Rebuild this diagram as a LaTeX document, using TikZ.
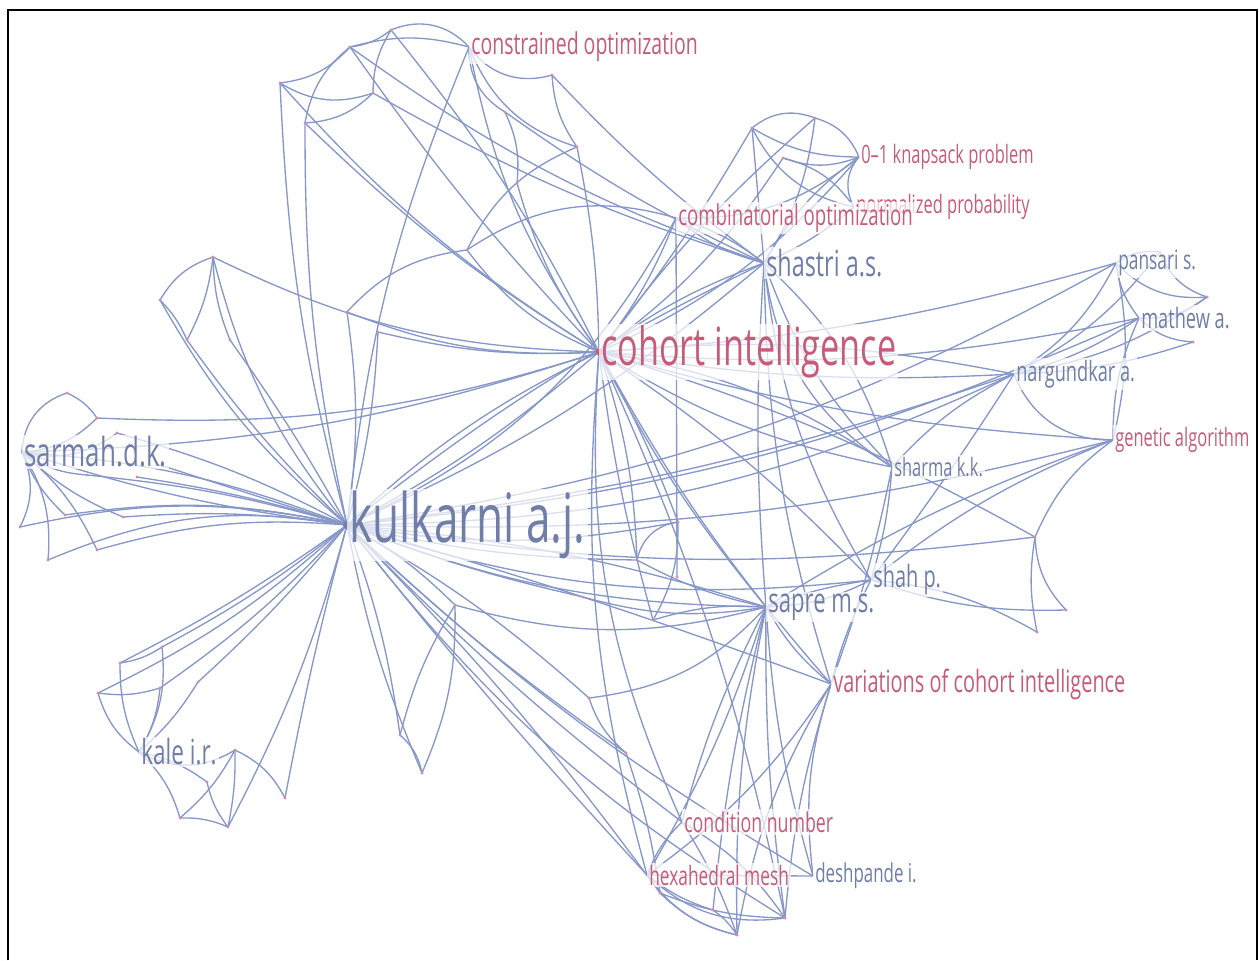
\documentclass[tikz,border=0pt]{standalone}
\usepackage{fontspec}
\setmainfont{Open Sans}[FakeStretch=0.65]
\usepackage{tikz}

\definecolor{edgeblue}{RGB}{134,151,200}
\definecolor{authorblue}{RGB}{112,126,168}
\definecolor{topicred}{RGB}{198,92,122}
\definecolor{dotpink}{RGB}{214,140,170}

\tikzset{
  edge/.style={draw=edgeblue, line width=1pt},
  jdot/.style={circle, fill=dotpink, inner sep=0pt, minimum size=2.6pt},
  lbl/.style={anchor=west, inner sep=1.5pt, fill=white, fill opacity=0.7, text opacity=1},
  author/.style={lbl, text=authorblue},
  topic/.style={lbl, text=topicred},
}
\newcommand{\fs}[1]{\fontsize{#1}{#1}\selectfont}

\begin{document}
\begin{tikzpicture}[x=0.75pt, y=-0.75pt]
  \useasboundingbox (0,0) rectangle (1259,960);
  \draw[black, line width=2.2pt] (8,960) -- (8,10) -- (1257,10) -- (1257,960);

  \foreach \n/\x/\y in {ku/347/525, co/599/352, sa/22/452, ka/139/752, sh/764/263,
      na/1014/374, sp/766/607, ph/871/580, va/831/684, cn/469/47, cb/676/218,
      kp/859/157, np/854/207, sk/892/467, ga/1113/440, ps/1116/263, ma/1139/318,
      cd/682/822, hx/647/875, de/813/876}
    \coordinate (\n) at (\x,\y);

  \foreach \n/\x/\y in {j1/280/83, j2/350/47, j3/391/30, j4/305/123, j5/373/93,
      j6/552/75, j7/505/112, j8/577/147, j9/517/183, j10/467/250, j11/347/312,
      j12/378/332, j13/213/257, j15/783/158, j16/752/128, j17/815/118,
      j20/67/393, j21/97/418, j22/117/433, j23/20/527, j24/65/515, j25/48/560,
      j26/97/550, j27/123/517, j28/87/475, j29/137/477, j30/160/465,
      j31/160/300, j32/187/340, j33/230/340,
      j40/162/647, j41/120/663, j42/98/693, j43/160/688, j44/198/682,
      j45/235/750, j46/207/782, j47/180/818, j48/228/827, j49/285/798,
      j50/400/735, j51/422/773,
      j60/678/522, j61/637/560, j62/653/620, j63/583/597, j64/455/605,
      j65/589/698, j66/626/753, j67/677/577,
      j70/737/935, j71/785/918, j72/713/910, j73/660/893,
      j80/1207/297, j81/1193/342, j82/1035/537, j83/1066/610, j84/1037/632,
      j85/1160/252}
    \coordinate (\n) at (\x,\y);

  \foreach \a/\b/\c in {j1/j2/-20, j1/j5/-25, j2/j3/-15, j2/cn/15, j3/cn/35,
      j4/j5/-20, j4/j2/20, j5/j3/15, j1/ku/-6, j4/ku/-6, j1/co/-8, j2/co/-4,
      j3/co/6, j4/co/-6, j5/sh/-6, j2/sh/-8, cn/j6/-35, cn/j7/-30, cn/ku/-8,
      cn/co/-12, cn/j8/-25, j6/j8/-15, j6/sh/-5, j7/j9/15, j7/sh/-5, j8/co/5,
      j9/co/-10, j8/j10/-20, j10/co/-15, j10/j11/-20, j10/cb/25, j11/co/-12,
      j12/co/-8, j11/ku/8, j12/ku/6, j13/co/-12, j13/ku/-12, j13/j31/-20,
      j13/j32/10,
      j16/j17/30, j17/kp/25, j16/kp/-15, j15/kp/-20, j15/np/20, j16/np/-25,
      kp/np/-35, j15/co/10, j16/co/4, j17/co/-6, kp/co/12, j16/sh/0,
      kp/sh/-12, np/sh/8, j17/sh/12, cb/sh/10, cb/sh/-12, cb/kp/-20, cb/co/8,
      cb/ku/18, cb/j67/0,
      sh/co/-8, sh/sk/-25, sh/sk/-12, sh/sk/15, sh/sp/-4, sh/ph/-12, sh/va/-8,
      sh/ku/8, sh/ku/-6,
      co/na/8, co/na/-6, co/ps/-6, co/ma/-8, co/ga/-6, co/sk/12, co/sk/-10,
      co/sp/-6, co/ph/6, co/va/-6, co/cd/-14, co/hx/-10, co/j82/6, co/j60/4,
      co/j61/8, co/j62/-4, co/ku/6, co/ku/-8,
      ku/na/-12, ku/na/-6, ku/ga/-8, ku/ps/-10, ku/ma/-9, ku/sp/-10, ku/sp/6,
      ku/ph/-12, ku/va/2, ku/j82/-8, ku/j60/-10, ku/j61/-6, ku/j63/-4,
      ku/j64/8, ku/de/-6, ku/j71/-10, ku/cd/-4, ku/hx/-2, ku/j65/6,
      ku/j66/-4, ku/j73/4,
      na/ps/-15, na/ma/-10, na/j80/-12, na/j81/-8, na/ga/-35, na/sk/-10,
      na/ph/2, ps/ga/12, ma/ga/-12, ps/ma/-15, ps/j80/-25, ma/j80/-20,
      ma/j81/-20, j85/ps/-20, j85/j80/-25, j85/na/12, ga/ph/-8, ga/j82/-15,
      ga/sp/-6, j82/j83/-20, j82/j84/-10, j83/ph/10, j84/ph/-12,
      ph/sp/12, ph/sp/-6, ph/va/-6, sp/va/-10, ph/sk/-6, sk/va/4, sp/cd/-6,
      sp/hx/6, sp/de/-6, va/de/-12, va/hx/10, va/j70/-10, va/j71/-6,
      sp/j71/-4, sp/j63/12, sp/j64/15, sp/j61/8, sp/j62/-10, j60/j61/-35,
      j60/j62/15, j65/sp/-20, j66/j65/15, j66/j73/5,
      cd/hx/-12, cd/j70/6, cd/j71/12, hx/j70/-20, hx/j71/-25, hx/j72/-10,
      j72/j70/10, j73/j70/-15, j73/j71/-10, hx/de/0, j71/co/-6, j70/sp/6,
      j72/sp/4,
      sa/j20/35, j20/j21/15, sa/j21/-20, sa/j22/-25, sa/ku/-5, sa/ku/8,
      sa/co/-8, j21/co/-10, j22/ku/6, j23/ku/12, j24/ku/10, j25/ku/16,
      j26/ku/10, j27/ku/6, j28/ku/5, j29/ku/4, j30/ku/0, sa/j23/25,
      sa/j24/-12, sa/j25/18, sa/j26/12, sa/j27/-10, sa/j28/-15,
      j31/j32/10, j31/ku/-10, j32/ku/-5, j33/ku/3, j13/j33/-10,
      ka/j40/-18, ka/j41/12, ka/j42/18, ka/j43/-12, ka/j44/-8, j41/j40/-12,
      j42/j43/-12, j40/ku/-5, j41/ku/-4, j43/ku/-6, j44/ku/-4, j42/ku/-8,
      ka/j45/-30, ka/j46/12, ka/j47/15, j45/j49/18, j46/j48/-12, j47/j48/12,
      j45/j48/6, j49/ku/2, j48/ku/-6, j47/j45/-10, j50/ku/-6, j51/ku/6,
      j50/j51/18, j51/j64/-12, j50/j64/8}
    \draw[edge] (\a) to[bend left=\c] (\b);

  \foreach \n in {j1,j2,j3,j4,j5,j6,j7,j8,j9,j10,j11,j12,j13,j15,j16,j17,
      j20,j21,j22,j23,j24,j25,j26,j27,j28,j29,j30,j31,j32,j33,j40,j41,j42,
      j43,j44,j45,j46,j47,j48,j49,j50,j51,j60,j61,j62,j63,j64,j65,j66,j67,
      j70,j71,j72,j73,j80,j81,j82,j83,j84,j85}
    \node[jdot] at (\n) {};

  \node[circle, fill=authorblue, inner sep=0pt, minimum size=6pt] (kudot) at (ku) {};
  \node[circle, fill=topicred, inner sep=0pt, minimum size=5pt] (codot) at (co) {};

  \node[topic, font=\fs{19}] (normalized) at (np) {normalized probability};
  \node[topic, font=\fs{21.5}] (combinatorial) at (cb) {combinatorial optimization};
  \node[author, font=\fs{51}] (kulkarni) at (ku) {kulkarni a.j.};
  \node[topic, font=\fs{39.5}] (cohort) at (co) {cohort intelligence};
  \node[author, font=\fs{30}] (sarmah) at (sa) {sarmah.d.k.};
  \node[author, font=\fs{26}] (kale) at (ka) {kale i.r.};
  \node[author, font=\fs{27}] (shastri) at (sh) {shastri a.s.};
  \node[author, font=\fs{21}] (nargundkar) at (na) {nargundkar a.};
  \node[author, font=\fs{25.5}] (sapre) at (sp) {sapre m.s.};
  \node[author, font=\fs{23}] (shah) at (ph) {shah p.};
  \node[topic, font=\fs{23}] (variations) at (va) {variations of cohort intelligence};
  \node[topic, font=\fs{22.5}] (constrained) at (cn) {constrained optimization};
  \node[topic, font=\fs{19}] (knapsack) at (kp) {0--1 knapsack problem};
  \node[author, font=\fs{19}] (sharma) at (sk) {sharma k.k.};
  \node[topic, font=\fs{19}] (genetic) at (ga) {genetic algorithm};
  \node[author, font=\fs{20}] (pansari) at (ps) {pansari s.};
  \node[author, font=\fs{21}] (mathew) at (ma) {mathew a.};
  \node[topic, font=\fs{20.5}] (condition) at (cd) {condition number};
  \node[topic, font=\fs{20}] (hexahedral) at (hx) {hexahedral mesh};
  \node[author, font=\fs{19.5}] (deshpande) at (de) {deshpande i.};
\end{tikzpicture}
\end{document}
